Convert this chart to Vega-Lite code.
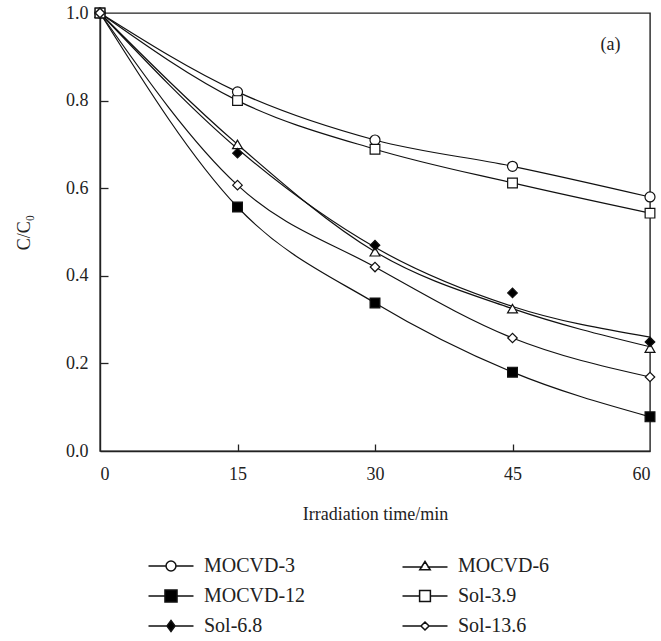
{
  "$schema": "https://vega.github.io/schema/vega-lite/v6.json",
  "width": 550,
  "height": 438,
  "autosize": "none",
  "padding": {"left": 100, "top": 13, "right": 11, "bottom": 190},
  "background": "white",
  "config": {
    "font": "Liberation Serif",
    "view": {"stroke": "#222", "strokeWidth": 1.4},
    "axis": {
      "domainColor": "#222", "domainWidth": 1.4, "tickColor": "#222", "tickWidth": 1.3,
      "labelFont": "Liberation Serif", "labelFontSize": 18, "labelColor": "#222",
      "titleFont": "Liberation Serif", "titleFontSize": 18, "titleFontWeight": "normal", "titleColor": "#222",
      "grid": false
    }
  },
  "datasets": {
    "curves": [
      {"series": "MOCVD-3", "t": 0, "value": 1.0, "fit": 1.0},
      {"series": "MOCVD-3", "t": 15, "value": 0.82, "fit": 0.82},
      {"series": "MOCVD-3", "t": 30, "value": 0.71, "fit": 0.71},
      {"series": "MOCVD-3", "t": 45, "value": 0.65, "fit": 0.65},
      {"series": "MOCVD-3", "t": 60, "value": 0.58, "fit": 0.58},
      {"series": "MOCVD-6", "t": 0, "value": 1.0, "fit": 1.0},
      {"series": "MOCVD-6", "t": 15, "value": 0.70, "fit": 0.70},
      {"series": "MOCVD-6", "t": 30, "value": 0.455, "fit": 0.455},
      {"series": "MOCVD-6", "t": 45, "value": 0.325, "fit": 0.325},
      {"series": "MOCVD-6", "t": 60, "value": 0.235, "fit": 0.238},
      {"series": "MOCVD-12", "t": 0, "value": 1.0, "fit": 1.0},
      {"series": "MOCVD-12", "t": 15, "value": 0.557, "fit": 0.557},
      {"series": "MOCVD-12", "t": 30, "value": 0.338, "fit": 0.338},
      {"series": "MOCVD-12", "t": 45, "value": 0.18, "fit": 0.18},
      {"series": "MOCVD-12", "t": 60, "value": 0.078, "fit": 0.078},
      {"series": "Sol-3.9", "t": 0, "value": 1.0, "fit": 1.0},
      {"series": "Sol-3.9", "t": 15, "value": 0.80, "fit": 0.80},
      {"series": "Sol-3.9", "t": 30, "value": 0.689, "fit": 0.689},
      {"series": "Sol-3.9", "t": 45, "value": 0.612, "fit": 0.612},
      {"series": "Sol-3.9", "t": 60, "value": 0.543, "fit": 0.543},
      {"series": "Sol-6.8", "t": 0, "value": 1.0, "fit": 1.0},
      {"series": "Sol-6.8", "t": 15, "value": 0.68, "fit": 0.69},
      {"series": "Sol-6.8", "t": 30, "value": 0.47, "fit": 0.465},
      {"series": "Sol-6.8", "t": 45, "value": 0.361, "fit": 0.33},
      {"series": "Sol-6.8", "t": 60, "value": 0.249, "fit": 0.26},
      {"series": "Sol-13.6", "t": 0, "value": 1.0, "fit": 1.0},
      {"series": "Sol-13.6", "t": 15, "value": 0.607, "fit": 0.607},
      {"series": "Sol-13.6", "t": 30, "value": 0.42, "fit": 0.42},
      {"series": "Sol-13.6", "t": 45, "value": 0.258, "fit": 0.258},
      {"series": "Sol-13.6", "t": 60, "value": 0.169, "fit": 0.169}
    ],
    "note": [{"t": 55.7, "value": 0.927, "label": "(a)"}]
  },
  "layer": [
    {
      "data": {"name": "curves"},
      "mark": {"type": "line", "interpolate": "monotone", "color": "#111", "strokeWidth": 1.2},
      "encoding": {
        "x": {"field": "t", "type": "quantitative", "scale": {"domain": [0, 60], "nice": false},
              "axis": {"values": [0, 15, 30, 45, 60], "ticks": false, "labelPadding": 14, "title": "Irradiation time/min", "titlePadding": 22}},
        "y": {"field": "fit", "type": "quantitative", "scale": {"domain": [0, 1], "nice": false},
              "axis": {"values": [0, 0.2, 0.4, 0.6, 0.8, 1.0], "format": ".1f", "ticks": false, "labelPadding": 12, "title": "C/C₀", "titlePadding": 32}},
        "detail": {"field": "series"}
      }
    },
    {
      "data": {"name": "curves"},
      "mark": {"type": "point", "filled": true, "stroke": "#111", "strokeWidth": 1.2, "opacity": 1},
      "encoding": {
        "x": {"field": "t", "type": "quantitative",
              "axis": {"orient": "top", "offset": -438, "values": [15, 30, 45], "labels": false, "domain": false, "ticks": true, "tickSize": 7, "title": null}},
        "y": {"field": "value", "type": "quantitative",
              "axis": {"orient": "right", "offset": -550, "values": [0.2, 0.4, 0.6, 0.8], "labels": false, "domain": false, "ticks": true, "tickSize": 8, "title": null}},
        "shape": {"field": "series", "type": "nominal",
                  "scale": {"domain": ["MOCVD-3", "MOCVD-6", "MOCVD-12", "Sol-3.9", "Sol-6.8", "Sol-13.6"],
                            "range": ["circle", "triangle-up", "square", "square", "diamond", "diamond"]},
                  "legend": null},
        "fill": {"field": "series", "type": "nominal",
                 "scale": {"domain": ["MOCVD-3", "MOCVD-6", "MOCVD-12", "Sol-3.9", "Sol-6.8", "Sol-13.6"],
                           "range": ["white", "white", "black", "white", "black", "white"]},
                 "legend": null},
        "size": {"field": "series", "type": "nominal",
                 "scale": {"domain": ["MOCVD-3", "MOCVD-6", "MOCVD-12", "Sol-3.9", "Sol-6.8", "Sol-13.6"],
                           "range": [100, 90, 144, 121, 110, 80]},
                 "legend": null}
      }
    },
    {
      "data": {"values": []},
      "mark": {"type": "point", "filled": true, "stroke": "#111", "strokeWidth": 1.2, "opacity": 1, "size": 324},
      "encoding": {
        "x": {"field": "t", "type": "quantitative", "axis": null},
        "y": {"field": "value", "type": "quantitative", "axis": null},
        "shape": {"field": "series", "type": "nominal",
                  "scale": {"domain": ["MOCVD-3", "MOCVD-6", "MOCVD-12", "Sol-3.9", "Sol-6.8", "Sol-13.6"],
                            "range": [
                              "M-2.5,0H-0.55M0.55,0H2.5M-0.55,0A0.55,0.55 0 1,0 0.55,0A0.55,0.55 0 1,0 -0.55,0Z",
                              "M-2.5,0.1H-0.27M0.27,0.1H2.5M0,-0.5L0.58,0.42L-0.58,0.42Z",
                              "M-2.5,0H-0.67M0.67,0H2.5M-0.67,-0.67H0.67V0.67H-0.67Z",
                              "M-2.5,0H-0.6M0.6,0H2.5M-0.6,-0.6H0.6V0.6H-0.6Z",
                              "M-2.5,0H-0.45M0.45,0H2.5M0,-0.62L0.45,0L0,0.62L-0.45,0Z",
                              "M-2.5,0H-0.45M0.45,0H2.5M0,-0.45L0.45,0L0,0.45L-0.45,0Z"
                            ]},
                  "legend": {"title": null, "orient": "none", "legendX": 61, "legendY": 543, "columns": 2, "direction": "horizontal",
                             "padding": 0, "columnPadding": 93, "rowPadding": 10, "symbolSize": 324,
                             "labelOffset": 23, "labelFont": "Liberation Serif", "labelFontSize": 20, "labelColor": "#222",
                             "labelLimit": 200,
                             "encode": {"symbols": {"update": {"stroke": {"value": "#111"}, "strokeWidth": {"value": 1.2}, "opacity": {"value": 1}}}}}},
        "fill": {"field": "series", "type": "nominal",
                 "scale": {"domain": ["MOCVD-3", "MOCVD-6", "MOCVD-12", "Sol-3.9", "Sol-6.8", "Sol-13.6"],
                           "range": ["white", "white", "black", "white", "black", "white"]}}
      }
    },
    {
      "data": {"name": "note"},
      "mark": {"type": "text", "fontSize": 18, "font": "Liberation Serif", "color": "#222", "align": "center", "baseline": "middle"},
      "encoding": {
        "x": {"field": "t", "type": "quantitative", "axis": null},
        "y": {"field": "value", "type": "quantitative", "axis": null},
        "text": {"field": "label"}
      }
    }
  ],
  "resolve": {"scale": {"shape": "independent", "fill": "independent", "size": "independent"}, "legend": {"shape": "independent", "fill": "independent"}, "axis": {"x": "independent", "y": "independent"}}
}
